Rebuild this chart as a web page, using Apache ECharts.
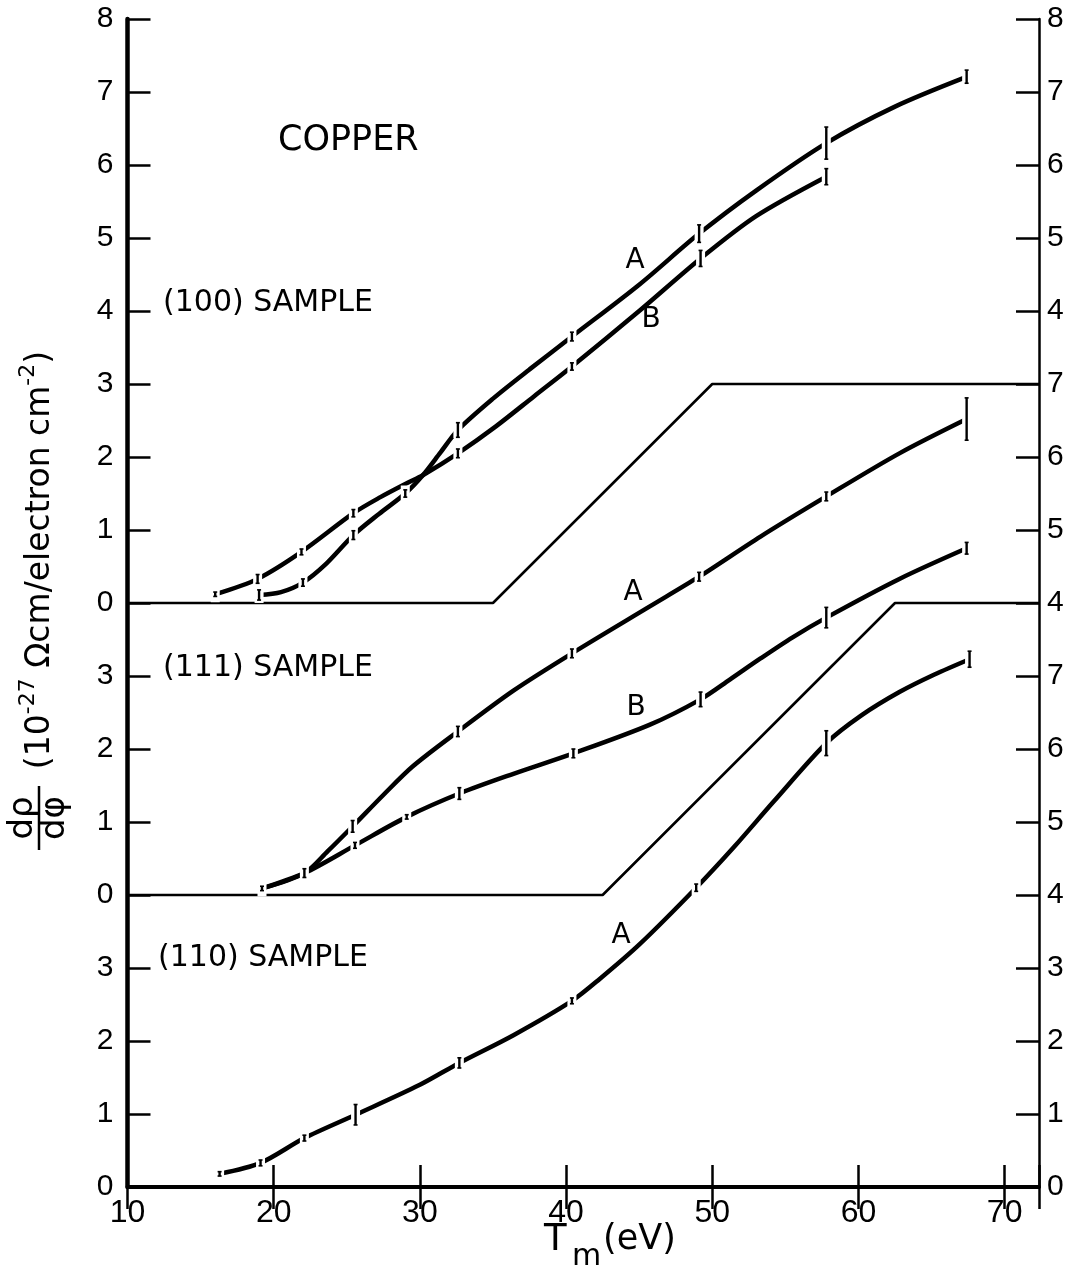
<!DOCTYPE html>
<html><head><meta charset="utf-8">
<script src="https://cdn.jsdelivr.net/npm/echarts@6/dist/echarts.min.js"></script>
<style>html,body{margin:0;padding:0;background:#fff}#c{width:1069px;height:1271px}</style>
</head><body><div id="c"></div>
<script>
// ---- tick labels ----
const xTickLabels = [10, 20, 30, 40, 50, 60, 70];
const leftTickLabels  = ['0','1','2','3','0','1','2','3','0','1','2','3','4','5','6','7','8'];
const rightTickLabels = ['0','1','2','3','4','5','6','7','4','5','6','7','4','5','6','7','8'];

// ---- panel offsets (stacked panels on one plot) ----
const off100 = 8, off111 = 4, off110 = 0;

// ---- (100) sample ----
const c100A_x = [19.0, 20.5, 22.0, 23.6, 25.45, 27.2, 29.0, 30.2, 31.4, 32.6, 35.0, 37.5, 40.4, 45.0, 49.1, 53.0, 57.8, 62.5, 67.3];
const c100A_y = [0.11, 0.15, 0.28, 0.54, 0.93, 1.22, 1.50, 1.75, 2.06, 2.37, 2.80, 3.20, 3.65, 4.36, 5.06, 5.65, 6.30, 6.80, 7.20];
const c100B_x = [16.0, 18.9, 21.9, 25.45, 27.3, 29.1, 30.2, 32.6, 35.2, 37.8, 40.4, 45.0, 49.2, 53.0, 57.8];
const c100B_y = [0.12, 0.33, 0.70, 1.23, 1.45, 1.64, 1.75, 2.05, 2.42, 2.83, 3.24, 4.00, 4.72, 5.30, 5.84];
const ramp100_x = [10, 35, 50, 72.35];
const ramp100_y = [0, 0, 3, 3];
// error bars: [x, value, half-length]
const err100A = [[19.0,0.11,0.07],[22.0,0.28,0.05],[25.45,0.93,0.06],[29.0,1.50,0.05],[32.6,2.37,0.10],[40.4,3.65,0.06],[49.1,5.06,0.12],[57.8,6.30,0.22],[67.4,7.21,0.09]];
const err100B = [[16.0,0.12,0.03],[18.9,0.33,0.06],[21.9,0.70,0.04],[25.45,1.23,0.05],[32.6,2.05,0.06],[40.4,3.24,0.05],[49.2,4.72,0.11],[57.8,5.84,0.11]];

// ---- (111) sample ----
const c111A_x = [19.2, 22.1, 23.7, 25.4, 27.5, 29.5, 32.6, 36.4, 40.4, 45.7, 49.1, 53.3, 57.8, 62.8, 67.4];
const c111A_y = [0.09, 0.30, 0.60, 0.94, 1.37, 1.76, 2.24, 2.80, 3.31, 3.95, 4.36, 4.91, 5.46, 6.05, 6.52];
const c111B_x = [19.2, 22.1, 25.56, 29.1, 32.7, 36.4, 40.5, 45.7, 49.2, 51.2, 53.3, 55.5, 57.8, 62.8, 67.4];
const c111B_y = [0.09, 0.30, 0.68, 1.07, 1.39, 1.66, 1.94, 2.33, 2.68, 2.95, 3.24, 3.53, 3.80, 4.33, 4.75];
const ramp111_x = [10, 42.5, 62.5, 72.35];
const ramp111_y = [0, 0, 4, 4];
const err111A = [[19.2,0.09,0.03],[22.1,0.30,0.06],[25.4,0.94,0.08],[32.6,2.24,0.07],[40.4,3.31,0.06],[49.1,4.36,0.06],[57.8,5.46,0.06],[67.4,6.52,0.29]];
const err111B = [[25.56,0.68,0.04],[29.1,1.07,0.03],[32.7,1.39,0.08],[40.5,1.94,0.06],[49.2,2.68,0.10],[57.8,3.80,0.14],[67.4,4.75,0.08]];

// ---- (110) sample ----
const c110A_x = [16.3, 19.1, 22.1, 25.6, 30.0, 32.7, 36.4, 40.4, 42.3, 45.0, 48.9, 51.5, 54.2, 57.8, 60.2, 62.8, 65.2, 67.6];
const c110A_y = [0.18, 0.33, 0.67, 0.99, 1.40, 1.70, 2.08, 2.55, 2.85, 3.32, 4.10, 4.66, 5.28, 6.08, 6.46, 6.78, 7.02, 7.23];
const err110A = [[16.3,0.18,0.03],[19.1,0.33,0.04],[22.1,0.67,0.04],[25.6,0.99,0.14],[32.7,1.70,0.07],[40.4,2.55,0.04],[48.9,4.10,0.05],[57.8,6.08,0.17],[67.6,7.23,0.11]];

function pts(xs, ys, off) { return xs.map((x, i) => [x, ys[i] + off]); }
function errs(arr, off) { return arr.map(e => [e[0], e[1] + off, e[2]]); }

const NUMFONT = 'Liberation Sans';

function curve(name, data) {
  return { name, type: 'line', data, smooth: 0.3, showSymbol: false, symbol: 'none',
    lineStyle: { color: '#000', width: 4.5, cap: 'round' }, z: 3, animation: false };
}
function ramp(name, data) {
  return { name, type: 'line', data, smooth: false, showSymbol: false, symbol: 'none',
    lineStyle: { color: '#000', width: 2.6 }, z: 2, animation: false };
}
function errRender(params, api) {
  const x = api.value(0), y = api.value(1), h = api.value(2);
  const c = api.coord([x, y]);
  const t = api.coord([x, y + h]);
  const b = api.coord([x, y - h]);
  return { type: 'group', children: [
    { type: 'rect', shape: { x: c[0] - 4.5, y: c[1] - 8, width: 9, height: 16 }, style: { fill: '#fff' } },
    { type: 'line', shape: { x1: c[0], y1: t[1], x2: c[0], y2: b[1] }, style: { stroke: '#000', lineWidth: 2.4 } },
    { type: 'line', shape: { x1: c[0] - 2, y1: t[1], x2: c[0] + 2, y2: t[1] }, style: { stroke: '#000', lineWidth: 1.6 } },
    { type: 'line', shape: { x1: c[0] - 2, y1: b[1], x2: c[0] + 2, y2: b[1] }, style: { stroke: '#000', lineWidth: 1.6 } }
  ]};
}
function errSeries(data) {
  return { type: 'custom', renderItem: errRender, data, z: 5, animation: false, clip: false };
}

const chart = echarts.init(document.getElementById('c'), null, { renderer: 'canvas' });
const axisCommon = { type: 'value', min: 10, max: 72.35, interval: 10, splitLine: { show: false } };
const yCommon = { type: 'value', min: 0, max: 16, interval: 1, splitLine: { show: false } };

chart.setOption({
  backgroundColor: '#fff',
  animation: false,
  grid: { left: 127.5, top: 19, right: 30, bottom: 84, containLabel: false },
  xAxis: [
    Object.assign({}, axisCommon, {
      position: 'bottom',
      axisLine: { show: true, lineStyle: { color: '#000', width: 4 } },
      axisTick: { show: true, inside: true, length: 22, lineStyle: { color: '#000', width: 2.5 } },
      axisLabel: { show: true, margin: 10, color: '#000', fontFamily: NUMFONT, fontSize: 32,
        formatter: v => (xTickLabels.indexOf(v) >= 0 ? String(v) : '') }
    }),
    Object.assign({}, axisCommon, {
      position: 'top',
      axisLine: { show: true, lineStyle: { color: '#000', width: 2.5 } },
      axisTick: { show: true, inside: true, length: 22, lineStyle: { color: '#000', width: 2.5 } },
      axisLabel: { show: false }
    })
  ],
  yAxis: [
    Object.assign({}, yCommon, {
      position: 'left',
      axisLine: { show: true, lineStyle: { color: '#000', width: 4.5 } },
      axisTick: { show: true, inside: true, length: 23, lineStyle: { color: '#000', width: 2.5 } },
      axisLabel: { show: true, margin: 14, color: '#000', fontFamily: NUMFONT, fontSize: 30,
        formatter: v => leftTickLabels[Math.round(v)] }
    }),
    Object.assign({}, yCommon, {
      position: 'right',
      axisLine: { show: true, lineStyle: { color: '#000', width: 2.5 } },
      axisTick: { show: true, inside: true, length: 23, lineStyle: { color: '#000', width: 2.5 } },
      axisLabel: { show: true, margin: 8, color: '#000', fontFamily: NUMFONT, fontSize: 30,
        formatter: v => rightTickLabels[Math.round(v)] }
    })
  ],
  series: [
    ramp('ramp100', pts(ramp100_x, ramp100_y, off100)),
    ramp('ramp111', pts(ramp111_x, ramp111_y, off111)),
    curve('100A', pts(c100A_x, c100A_y, off100)),
    curve('100B', pts(c100B_x, c100B_y, off100)),
    curve('111A', pts(c111A_x, c111A_y, off111)),
    curve('111B', pts(c111B_x, c111B_y, off111)),
    curve('110A', pts(c110A_x, c110A_y, off110)),
    errSeries(errs(err100A, off100)),
    errSeries(errs(err100B, off100)),
    errSeries(errs(err111A, off111)),
    errSeries(errs(err111B, off111)),
    errSeries(errs(err110A, off110))
  ],
  graphic: [
    { type: 'text', x: 278, y: 141, style: { text: 'COPPER', font: '35px "DejaVu Sans"', fill: '#000', verticalAlign: 'middle' } },
    { type: 'text', x: 163, y: 303, style: { text: '(100) SAMPLE', font: '30px "DejaVu Sans"', fill: '#000', verticalAlign: 'middle' } },
    { type: 'text', x: 163, y: 668, style: { text: '(111) SAMPLE', font: '30px "DejaVu Sans"', fill: '#000', verticalAlign: 'middle' } },
    { type: 'text', x: 158, y: 958, style: { text: '(110) SAMPLE', font: '30px "DejaVu Sans"', fill: '#000', verticalAlign: 'middle' } },
    { type: 'text', x: 635, y: 261, style: { text: 'A', font: '28px "DejaVu Sans"', fill: '#000', align: 'center', verticalAlign: 'middle' } },
    { type: 'text', x: 651, y: 320, style: { text: 'B', font: '28px "DejaVu Sans"', fill: '#000', align: 'center', verticalAlign: 'middle' } },
    { type: 'text', x: 633, y: 593, style: { text: 'A', font: '28px "DejaVu Sans"', fill: '#000', align: 'center', verticalAlign: 'middle' } },
    { type: 'text', x: 636, y: 708, style: { text: 'B', font: '28px "DejaVu Sans"', fill: '#000', align: 'center', verticalAlign: 'middle' } },
    { type: 'text', x: 621, y: 936, style: { text: 'A', font: '28px "DejaVu Sans"', fill: '#000', align: 'center', verticalAlign: 'middle' } },
    // x-axis title T_m(eV)
    { type: 'text', x: 544, y: 1240, style: { text: 'T', font: '37px "DejaVu Sans"', fill: '#000', verticalAlign: 'middle' } },
    { type: 'text', x: 572, y: 1257, style: { text: 'm', font: '30px "DejaVu Sans"', fill: '#000', verticalAlign: 'middle' } },
    { type: 'text', x: 603, y: 1240, style: { text: '(eV)', font: '35px "DejaVu Sans"', fill: '#000', verticalAlign: 'middle' } },
    // y-axis title
    { type: 'text', x: 23, y: 818, rotation: Math.PI / 2, style: { text: 'dρ', font: '34px "DejaVu Sans"', fill: '#000', align: 'center', verticalAlign: 'middle' } },
    { type: 'text', x: 55, y: 818, rotation: Math.PI / 2, style: { text: 'dφ', font: '34px "DejaVu Sans"', fill: '#000', align: 'center', verticalAlign: 'middle' } },
    { type: 'line', shape: { x1: 39, y1: 786, x2: 39, y2: 850 }, style: { stroke: '#000', lineWidth: 2.5 } },
    { type: 'text', x: 40, y: 560, rotation: Math.PI / 2,
      style: { text: '(10{sup|-27} Ωcm/electron cm{sup|-2})', font: '33px "DejaVu Sans"', fill: '#000',
        align: 'center', verticalAlign: 'middle', lineHeight: 46,
        rich: { sup: { fontSize: 22, fontFamily: 'DejaVu Sans', lineHeight: 22, verticalAlign: 'top', fill: '#000' } } } }
  ]
});
</script>
</body></html>
